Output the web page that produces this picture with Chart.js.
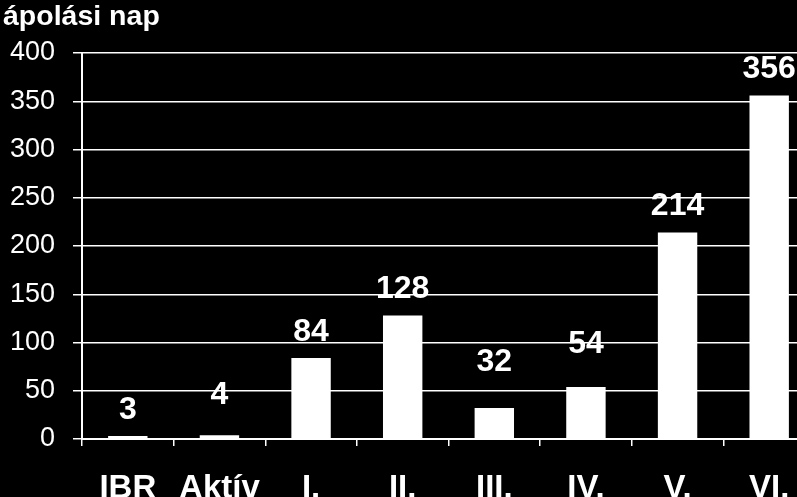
<!DOCTYPE html>
<html>
<head>
<meta charset="utf-8">
<script src="https://cdn.jsdelivr.net/npm/chart.js@4"></script>
<style>
  html, body { margin: 0; padding: 0; background: #000; overflow: hidden; }
</style>
</head>
<body>
<canvas id="chart" width="820" height="497"></canvas>
<script>
const categories = ["IBR", "Aktív", "I.", "II.", "III.", "IV.", "V.", "VI."];
const values = [3, 4, 84, 128, 32, 54, 214, 356];
const axisTitle = "ápolási nap";

// some labels sit higher in the original slide (extra px above the usual gap)
const extraLift = [0, 14, 0, 0, 20, 17, 0, 0];

// title in the top-left corner and the numbers over the bars
const labelsPlugin = {
    id: "labels",
    afterDatasetsDraw(chart) {
        const ctx = chart.ctx;
        ctx.save();
        ctx.fillStyle = "#fff";
        ctx.font = "bold 28.5px 'Liberation Sans', Arial";
        ctx.textAlign = "left";
        ctx.textBaseline = "middle";
        ctx.fillText(axisTitle, 3, 17);

        ctx.font = "bold 32px 'Liberation Sans', Arial";
        ctx.textAlign = "center";
        chart.getDatasetMeta(0).data.forEach((bar, i) => {
            ctx.fillText(values[i], bar.x, bar.y - 26 - extraLift[i]);
        });
        ctx.restore();
    }
};

new Chart(document.getElementById("chart"), {
    type: "bar",
    data: {
        labels: categories,
        datasets: [{
            data: values,
            backgroundColor: "#fff",
            borderWidth: 0,
            categoryPercentage: 1,
            barPercentage: 0.43
        }]
    },
    options: {
        responsive: false,
        animation: false,
        layout: { padding: { top: 53, right: 5, left: 0, bottom: 0 } },
        plugins: {
            legend: { display: false },
            tooltip: { enabled: false }
        },
        scales: {
            x: {
                offset: true,
                grid: {
                    offset: true,
                    drawOnChartArea: false,
                    color: "#fff",
                    lineWidth: 1.5,
                    tickLength: 7
                },
                border: { color: "#fff", width: 2 },
                ticks: {
                    color: "#fff",
                    padding: 23,
                    font: { family: "'Liberation Sans', Arial", size: 33, weight: "bold" }
                },
                afterFit(scale) { scale.height = 58; }
            },
            y: {
                min: 0,
                max: 400,
                ticks: {
                    stepSize: 50,
                    color: "#fff",
                    padding: 18,
                    font: { family: "'Liberation Sans', Arial", size: 27 }
                },
                grid: {
                    color: "#fff",
                    lineWidth: 1.5,
                    tickLength: 9
                },
                border: { color: "#fff", width: 2 },
                afterFit(scale) { scale.width = 82; }
            }
        }
    },
    plugins: [labelsPlugin]
});
</script>
</body>
</html>
